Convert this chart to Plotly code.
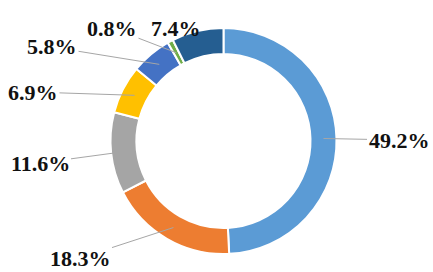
import math
import plotly.graph_objects as go

categories = ["A", "B", "C", "D", "E", "F", "G"]
values = [49.2, 18.3, 11.6, 6.9, 5.8, 0.8, 7.4]
labels = ["49.2%", "18.3%", "11.6%", "6.9%", "5.8%", "0.8%", "7.4%"]
colors = ["#5B9BD5", "#ED7D31", "#A5A5A5", "#FFC000", "#4472C4", "#70AD47", "#255E91"]

W, H = 433, 272
CX, CY, R = 223.5, 141.0, 113.0
HOLE = 0.77

# label text centres (pixels), layout only
label_pos = [(399, 140), (80, 258), (40, 163), (33, 92), (52, 47), (112, 28), (176, 14)]
show_line = [True, True, True, True, True, True, False]

fig = go.Figure(go.Pie(
    labels=categories, values=values, sort=False, direction="clockwise",
    rotation=0, hole=HOLE, textinfo="none", hoverinfo="none",
    marker=dict(colors=colors, line=dict(color="white", width=2)),
    domain=dict(x=[(CX - R) / W, (CX + R) / W], y=[(H - CY - R) / H, (H - CY + R) / H]),
    showlegend=False,
))

total = sum(values)
cum = 0.0
annotations = []
rmid = R * (1 + HOLE) / 2
font = dict(family="Liberation Serif", size=22, color="#111111")
for v, lab, (lx, ly), sl in zip(values, labels, label_pos, show_line):
    mid = (cum + v / 2) / total
    cum += v
    th = 2 * math.pi * mid
    tx = CX + rmid * math.sin(th)
    ty = CY - rmid * math.cos(th)
    if sl:
        annotations.append(dict(
            x=tx / W, y=1 - ty / H, xref="paper", yref="paper",
            ax=lx - tx, ay=ly - ty, axref="pixel", ayref="pixel",
            text="<b>" + lab + "</b>", showarrow=True, arrowhead=0,
            arrowwidth=1, arrowcolor="#A6A6A6", standoff=0, startstandoff=0,
            font=font,
        ))
    else:
        annotations.append(dict(
            x=lx / W, y=1 - ly / H, xref="paper", yref="paper",
            text="<b>" + lab + "</b>", showarrow=False, font=font,
        ))

fig.update_layout(
    width=W, height=H, margin=dict(l=0, r=0, t=0, b=0),
    paper_bgcolor="white", plot_bgcolor="white",
    annotations=annotations,
)
fig.write_html("out.html", config={"displayModeBar": False},
               post_script="document.body.style.margin='0';document.body.style.overflow='hidden';")
